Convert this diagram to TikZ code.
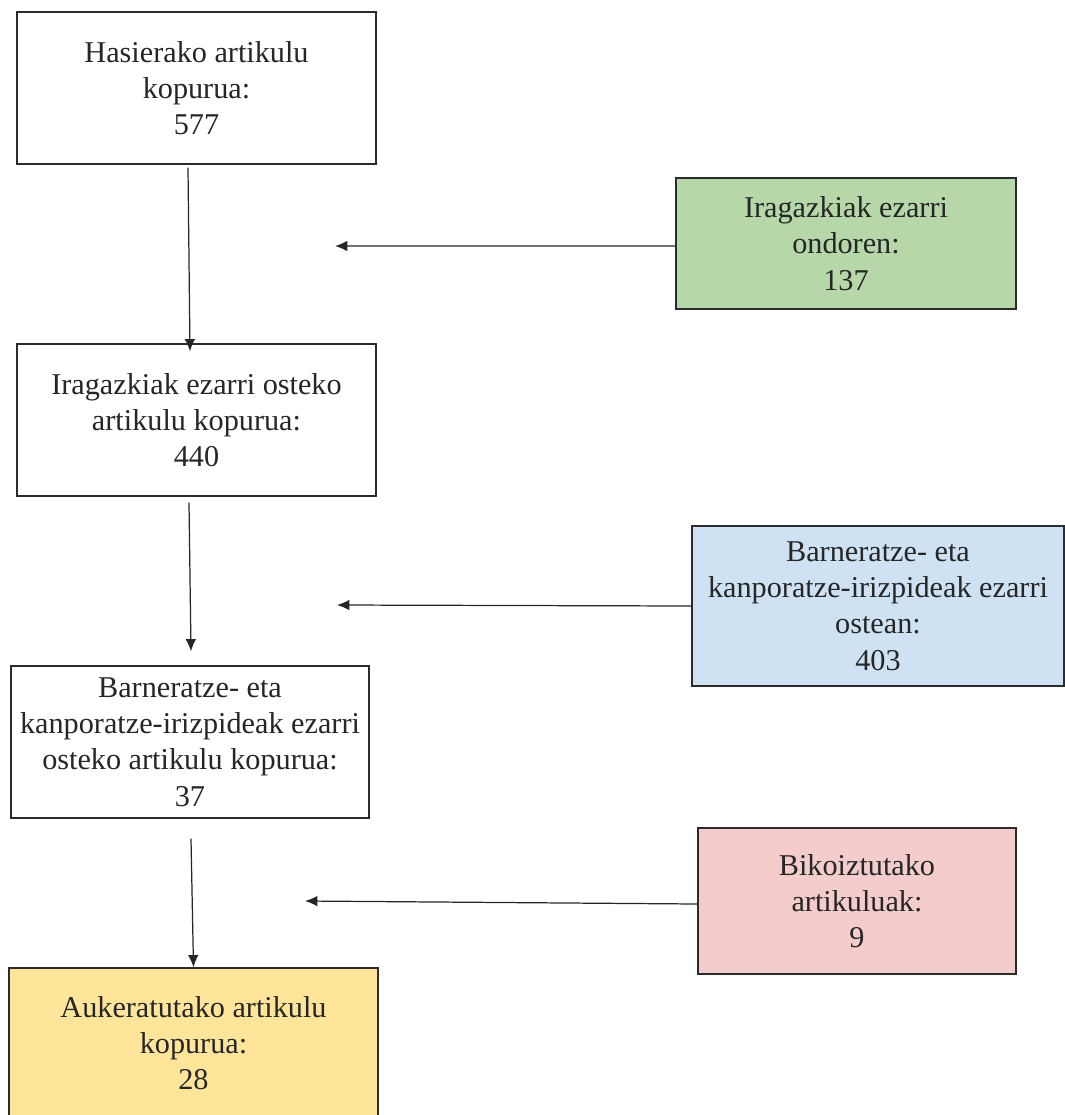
\documentclass[tikz,border=0pt]{standalone}
\usepackage{fontspec}
\setmainfont{Liberation Serif}
\usetikzlibrary{arrows.meta}

\definecolor{filtgreen}{HTML}{B6D7A8}
\definecolor{critblue}{HTML}{CFE2F3}
\definecolor{duplred}{HTML}{F4CCCC}
\definecolor{selyellow}{HTML}{FFE599}
\definecolor{edgegray}{HTML}{2B2B2B}

\begin{document}
\begin{tikzpicture}[
    countbox/.style={draw=edgegray,line width=0.75pt,align=center,inner sep=5pt,
        font=\fontsize{17.2}{20.6}\selectfont,text=black!85},
    flow/.style={-{Latex[length=7pt,width=6pt]},line width=0.7pt,black!85}
]

\useasboundingbox (0,0) rectangle (21.3,-22.3);

%%%%%%%%%%%%%%%%%%%%%%%%%%%%%%%%%%%%%%%%%%%%%%%%%%%%%%%%%%%%%%%%
% Main column
%%%%%%%%%%%%%%%%%%%%%%%%%%%%%%%%%%%%%%%%%%%%%%%%%%%%%%%%%%%%%%%%

\node[countbox,fill=white,minimum width=7.18cm,minimum height=3.04cm] (m_start) at (3.93,-1.76) {Hasierako artikulu\\ kopurua:\\ 577};

\node[countbox,fill=white,minimum width=7.18cm,minimum height=3.04cm] (m_filt) at (3.93,-8.4) {Iragazkiak ezarri osteko\\ artikulu kopurua:\\ 440};

\node[countbox,fill=white,minimum width=7.16cm,minimum height=3.04cm] (m_crit) at (3.8,-14.84) {Barneratze- eta\\ kanporatze-irizpideak ezarri\\ osteko artikulu kopurua:\\ 37};

\node[countbox,fill=selyellow,minimum width=7.38cm,minimum height=3.0cm] (m_sel) at (3.87,-20.86) {Aukeratutako artikulu\\ kopurua:\\ 28};

% Edges
\draw[flow] ([xshift=-0.17cm,yshift=-0.06cm]m_start.south) -- ([xshift=-0.13cm,yshift=-0.16cm]m_filt.north);
\draw[flow] ([xshift=-0.15cm,yshift=-0.12cm]m_filt.south) -- ([xshift=0.02cm,yshift=0.28cm]m_crit.north);
\draw[flow] ([xshift=0.02cm,yshift=-0.4cm]m_crit.south) -- (m_sel.north);

%%%%%%%%%%%%%%%%%%%%%%%%%%%%%%%%%%%%%%%%%%%%%%%%%%%%%%%%%%%%%%%%
% Removed articles
%%%%%%%%%%%%%%%%%%%%%%%%%%%%%%%%%%%%%%%%%%%%%%%%%%%%%%%%%%%%%%%%

\node[countbox,fill=filtgreen,minimum width=6.8cm,minimum height=2.62cm] (r_filt) at (16.92,-4.87) {Iragazkiak ezarri\\ ondoren:\\ 137};

\node[countbox,fill=critblue,minimum width=7.44cm,minimum height=3.2cm] (r_crit) at (17.56,-12.12) {Barneratze- eta\\ kanporatze-irizpideak ezarri\\ ostean:\\ 403};

\node[countbox,fill=duplred,minimum width=6.36cm,minimum height=2.92cm] (r_dupl) at (17.14,-18.02) {Bikoiztutako\\ artikuluak:\\ 9};

% Free ends
\coordinate (filt_end) at (6.7,-4.92);
\coordinate (crit_end) at (6.74,-12.1);
\coordinate (dupl_end) at (6.1,-18.02);

% Edges
\draw[flow] ([yshift=-0.05cm]r_filt.west) -- (filt_end);
\draw[flow] (r_crit.west) -- (crit_end);
\draw[flow] ([yshift=-0.06cm]r_dupl.west) -- (dupl_end);

\end{tikzpicture}
\end{document}
